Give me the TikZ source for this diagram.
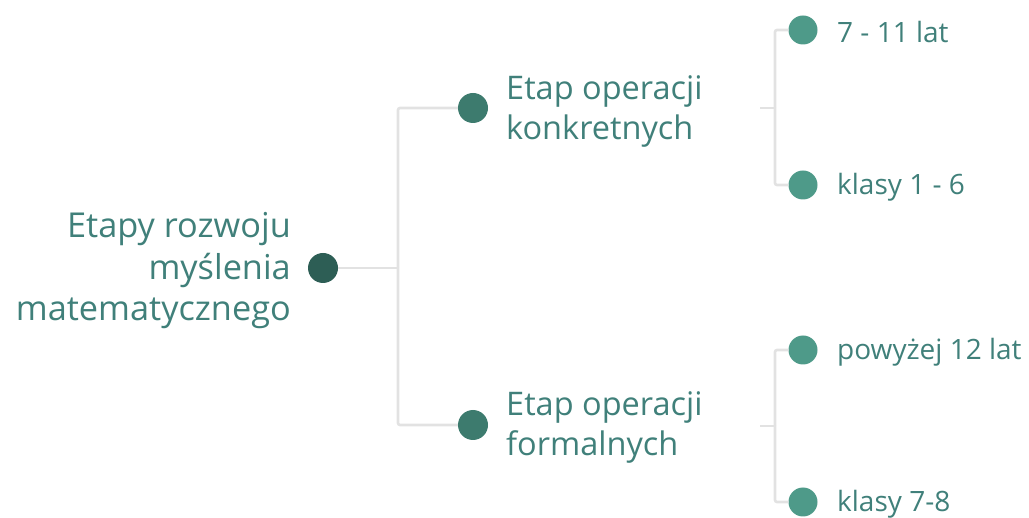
\documentclass[tikz,border=0pt]{standalone}
\usepackage{fontspec}
\setmainfont{Open Sans}
\definecolor{txt}{HTML}{40807A}
\definecolor{dot0}{HTML}{2D5E55}
\definecolor{dot1}{HTML}{3D7B6E}
\definecolor{dot2}{HTML}{4E9A89}
\definecolor{ln}{HTML}{E2E2E2}
\begin{document}
\begin{tikzpicture}[x=1pt,y=-1pt,
  dotnode/.style={circle,inner sep=0pt,minimum size=#1},
  roottext/.style={text=txt,inner sep=0pt,font=\fontsize{34.3}{41.5}\selectfont},
  bigtext/.style={text=txt,inner sep=0pt,font=\fontsize{32.5}{40}\selectfont},
  smalltext/.style={text=txt,inner sep=0pt,anchor=west,font=\fontsize{28}{32}\selectfont},
  conn/.style={draw=ln,line width=2.6pt,rounded corners=2pt}]
\useasboundingbox (0,0) rectangle (1029,518);
% dots
\node[dotnode=30pt,fill=dot0] (r) at (323,268) {};
\node[dotnode=30pt,fill=dot1] (a) at (473,108) {};
\node[dotnode=30pt,fill=dot1] (b) at (473,425) {};
\node[dotnode=29pt,fill=dot2] (a1) at (803,30) {};
\node[dotnode=29pt,fill=dot2] (a2) at (803,185) {};
\node[dotnode=29pt,fill=dot2] (b1) at (803,350) {};
\node[dotnode=29pt,fill=dot2] (b2) at (803,502) {};
% texts
\node[roottext,anchor=east,align=right] (rt) at (291,271) {Etapy rozwoju\\myślenia\\matematycznego};
\node[bigtext,anchor=west,align=left] (at) at (506,111) {Etap operacji\\konkretnych};
\node[bigtext,anchor=west,align=left] (bt) at (506,427) {Etap operacji\\formalnych};
\node[smalltext] (a1t) at (837,32) {7 - 11 lat};
\node[smalltext] (a2t) at (837,187) {klasy 1 - 6};
\node[smalltext] (b1t) at (837,352) {powyżej 12 lat};
\node[smalltext] (b2t) at (837,504) {klasy 7-8};
% junctions
\coordinate (j0) at (398,268);
\coordinate (s1) at (760,108);
\coordinate (j1) at (775,108);
\coordinate (s2) at (760,426);
\coordinate (j2) at (775,426);
% connectors
\draw[conn] (r.east) -- (j0);
\draw[conn] (j0) |- (a.west);
\draw[conn] (j0) |- (b.west);
\draw[conn] (s1) -- (j1);
\draw[conn] (j1) |- (a1.west);
\draw[conn] (j1) |- (a2.west);
\draw[conn] (s2) -- (j2);
\draw[conn] (j2) |- (b1.west);
\draw[conn] (j2) |- (b2.west);
\end{tikzpicture}
\end{document}
